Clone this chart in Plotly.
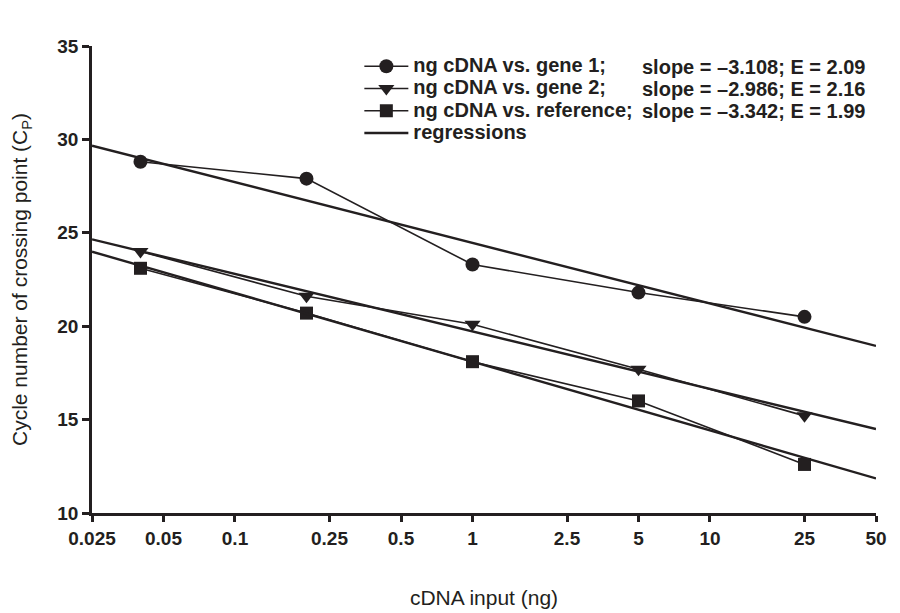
import numpy as np
import plotly.graph_objects as go

x_ng = [0.04, 0.2, 1, 5, 25]
gene1 = [28.8, 27.9, 23.3, 21.8, 20.5]
gene2 = [24.0, 21.6, 20.1, 17.7, 15.2]
reference = [23.1, 20.7, 18.1, 16.0, 12.6]

series_names = ["ng cDNA vs. gene 1;", "ng cDNA vs. gene 2;", "ng cDNA vs. reference;"]
regression_name = "regressions"
slope_texts = ["slope = \u20133.108; E = 2.09", "slope = \u20132.986; E = 2.16", "slope = \u20133.342; E = 1.99"]
symbols = ["circle", "triangle-down", "square"]
marker_sizes = [14, 14, 13]

x_tickvals = [0.025, 0.05, 0.1, 0.25, 0.5, 1, 2.5, 5, 10, 25, 50]
x_ticktext = ["0.025", "0.05", "0.1", "0.25", "0.5", "1", "2.5", "5", "10", "25", "50"]
y_tickvals = [10, 15, 20, 25, 30, 35]
x_range = [0.025, 50]

INK = "#231f20"
FONT = "Liberation Sans, Arial, sans-serif"
LEG_SIZE = 20


def leg(t):
    return '<span style="font-size:%dpx">%s</span>' % (LEG_SIZE, t)


fig = go.Figure()
all_series = [gene1, gene2, reference]
for name, ys, sym, ms in zip(series_names, all_series, symbols, marker_sizes):
    fig.add_trace(go.Scatter(
        x=x_ng, y=ys, mode="lines+markers", name=leg(name),
        line=dict(color=INK, width=1.6),
        marker=dict(symbol=sym, size=ms, color=INK),
    ))

lx = np.log10(np.array(x_ng))
xr = np.array(x_range)
for i, ys in enumerate(all_series):
    b, a = np.polyfit(lx, np.array(ys), 1)
    fig.add_trace(go.Scatter(
        x=list(xr), y=list(a + b * np.log10(xr)), mode="lines",
        name=leg(regression_name), showlegend=(i == 0),
        line=dict(color=INK, width=2.4), cliponaxis=False,
    ))

for k, t in enumerate(slope_texts):
    fig.add_annotation(
        x=0.700, y=0.955 - k * 0.0471, xref="paper", yref="paper",
        text=t, showarrow=False, xanchor="left", yanchor="middle",
        xshift=-1,
        font=dict(size=LEG_SIZE, color=INK, family=FONT, weight="bold"),
    )

fig.update_layout(
    width=900, height=613,
    margin=dict(l=92, r=24, t=46, b=100),
    paper_bgcolor="white", plot_bgcolor="white",
    font=dict(family=FONT, size=19, color=INK),
    legend=dict(x=0.341, y=0.991, xanchor="left", yanchor="top",
                bgcolor="rgba(0,0,0,0)", tracegroupgap=0, itemwidth=44,
                font=dict(size=14.8, color=INK, family=FONT, weight="bold")),
    showlegend=True,
)
fig.update_xaxes(
    type="log", range=[np.log10(x_range[0]), np.log10(x_range[1])],
    tickvals=x_tickvals, ticktext=x_ticktext,
    tickfont=dict(size=19, weight="bold", color=INK),
    showline=True, linecolor=INK, linewidth=2.5, ticks="outside", ticklen=6,
    tickwidth=2.5, tickcolor=INK, showgrid=False, zeroline=False,
    automargin=False,
    title=dict(text="cDNA input (ng)", standoff=43, font=dict(size=21)),
)
fig.update_yaxes(
    range=[10, 35], tickvals=y_tickvals,
    tickfont=dict(size=19, weight="bold", color=INK),
    showline=True, linecolor=INK, linewidth=2.5, ticks="outside", ticklen=7,
    tickwidth=2.5, tickcolor=INK, showgrid=False, zeroline=False,
    automargin=False,
    title=dict(text="Cycle number of crossing point (C<sub>P</sub>)", standoff=24, font=dict(size=21)),
)

fig.write_html("out.html")
